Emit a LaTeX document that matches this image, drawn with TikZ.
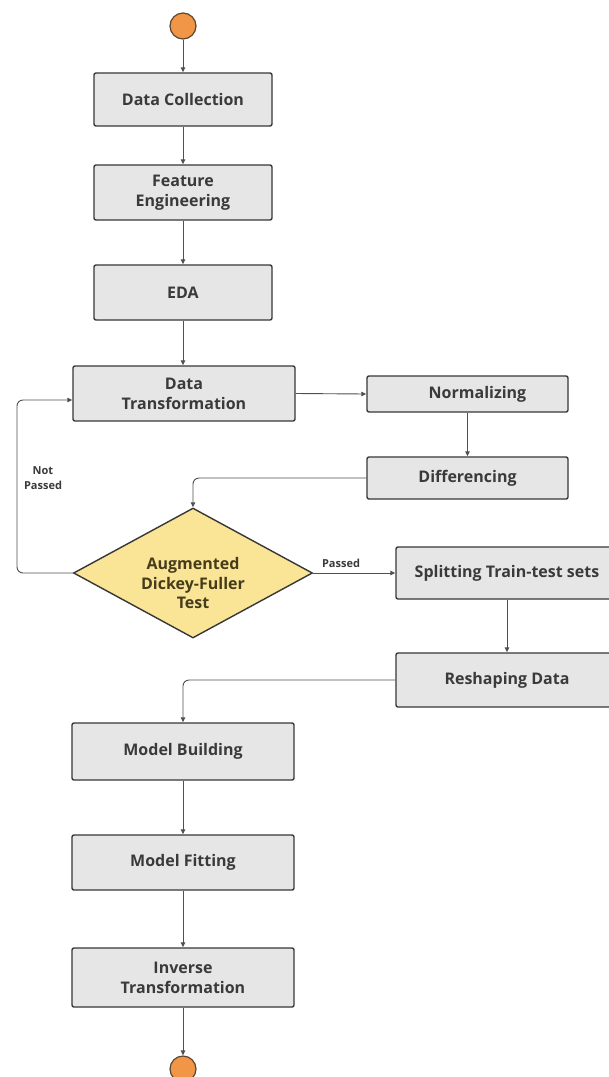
\documentclass[tikz,border=0pt]{standalone}
\usepackage{fontspec}
\setmainfont{Open Sans}
\usetikzlibrary{shapes.geometric,arrows.meta}
\definecolor{boxfill}{RGB}{230,230,230}
\definecolor{boxline}{RGB}{55,55,55}
\definecolor{txt}{RGB}{58,58,58}
\definecolor{conn}{RGB}{80,80,80}
\definecolor{orangefill}{RGB}{240,150,70}
\definecolor{orangeline}{RGB}{90,70,50}
\definecolor{diafill}{RGB}{250,229,150}
\definecolor{diatxt}{RGB}{70,60,28}
\begin{document}
\begin{tikzpicture}[x=1pt,y=-1pt,
  proc/.style={draw=boxline, fill=boxfill, line width=1.4pt, rounded corners=2pt, inner sep=0pt, align=center, text=txt, font=\fontsize{16}{20}\selectfont\bfseries},
  term/.style={circle, draw=orangeline, fill=orangefill, line width=1.2pt, minimum size=26pt, inner sep=0pt},
  conn/.style={draw=conn, line width=0.9pt, -{Triangle[length=5pt,width=4.5pt]}, rounded corners=6pt},
  lbl/.style={text=txt, font=\fontsize{11}{15}\selectfont\bfseries, align=center, inner sep=0pt},
  dia/.style={diamond, draw=boxline, fill=diafill, line width=1.4pt, minimum width=239pt, minimum height=130pt, inner sep=0pt},
  diatext/.style={align=center, inner sep=0pt, text=diatxt, font=\fontsize{16}{19.5}\selectfont\bfseries}]
\useasboundingbox (0,0) rectangle (609,1077);
\fill[white] (0,0) rectangle (609,1077);
\begin{scope}
\clip (0,0) rectangle (609,1077);
\node[term] (start) at (183,26) {};
\node[proc, minimum width=178pt, minimum height=53pt] (dc) at (183,99.5) {Data Collection};
\node[proc, minimum width=178pt, minimum height=55pt] (fe) at (183,192.5) {Feature\\Engineering};
\node[proc, minimum width=178pt, minimum height=55pt] (eda) at (183,292.5) {EDA};
\node[proc, minimum width=222pt, minimum height=55pt] (dt) at (184,393.5) {Data\\Transformation};
\node[proc, minimum width=201pt, minimum height=36pt] (norm) at (467.5,394) {\hspace*{20pt}Normalizing};
\node[proc, minimum width=201pt, minimum height=42pt] (diff) at (467.5,478) {Differencing};
\node[dia] (adf) at (193,573) {};
\node[diatext] (adftext) at (193,583) {Augmented\\Dickey-Fuller\\Test};
\node[proc, minimum width=222pt, minimum height=52pt] (split) at (507,573) {Splitting Train-test sets};
\node[proc, minimum width=222pt, minimum height=54pt] (resh) at (507,680) {Reshaping Data};
\node[proc, minimum width=222pt, minimum height=57pt] (mb) at (183,751.5) {Model Building};
\node[proc, minimum width=222pt, minimum height=55pt] (mf) at (183,862.5) {Model Fitting};
\node[proc, minimum width=222pt, minimum height=59pt] (it) at (183,977.5) {Inverse\\Transformation};
\node[term] (end) at (183,1069) {};
\node[lbl] (np) at (43,478) {Not\\Passed};
\node[lbl] (ps) at (341,563) {Passed};
\coordinate (loopA) at (17,573);
\coordinate (loopB) at (17,400);
\draw[conn] (start) -- (dc);
\draw[conn] (dc) -- (fe);
\draw[conn] (fe) -- (eda);
\draw[conn] (eda.south) -- (eda.south |- dt.north);
\draw[conn] (dt.east) -- (norm.west);
\draw[conn] (norm) -- (diff);
\draw[conn] (diff.west) -| (adf.north);
\draw[conn] (adf.west) -- (loopA) -- (loopB) -- (dt.west |- loopB);
\draw[conn] (adf.east) -- (split.west);
\draw[conn] (split) -- (resh);
\draw[conn] (resh.west) -| (mb.north);
\draw[conn] (mb) -- (mf);
\draw[conn] (mf) -- (it);
\draw[conn] (it) -- (end);
\end{scope}
\end{tikzpicture}
\end{document}
